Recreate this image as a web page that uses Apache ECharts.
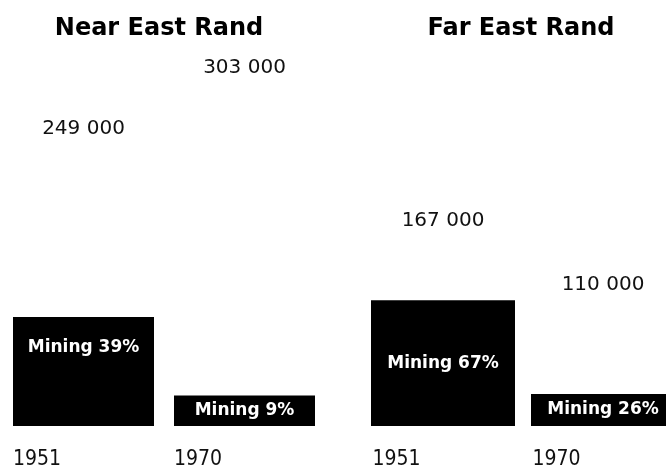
<!DOCTYPE html>
<html><head><meta charset="utf-8">
<script src="https://cdn.jsdelivr.net/npm/echarts@6/dist/echarts.min.js"></script>
<style>html,body{margin:0;padding:0;background:#fff}#c{width:666px;height:468px}</style>
</head><body><div id="c"></div>
<script>
var panelTitles = ['Near East Rand', 'Far East Rand'];
var years = ['1951', '1970'];
var nearTotal = [249000, 303000];
var nearMiningPct = [39, 9];
var farTotal = [167000, 110000];
var farMiningPct = [67, 26];

function fmt(v){ return String(v).replace(/\B(?=(\d{3})+(?!\d))/g, ' '); }

var chart = echarts.init(document.getElementById('c'));
var grids = [
  {left: 3, width: 322, top: 33, bottom: 42, outerBoundsMode: 'none'},
  {left: 363, width: 320, top: 33, bottom: 42, outerBoundsMode: 'none'}
];
var panels = [[nearTotal, nearMiningPct], [farTotal, farMiningPct]];
var xAxes = [], yAxes = [], series = [];
panels.forEach(function(p, gi){
  xAxes.push({type:'category', gridIndex: gi, data: years,
    axisLine:{show:false}, axisTick:{show:false},
    axisLabel:{interval:0, margin:23, width:141, align:'center',
      formatter:'{a|{value}}',
      rich:{a:{align:'left', fontFamily:'"DejaVu Sans Condensed", "DejaVu Sans"', fontSize:21, color:'#111', fontWeight:'normal'}}}});
  yAxes.push({type:'value', gridIndex: gi, min:0, max:350000, show:false, splitLine:{show:false}});
  var totals = p[0], pct = p[1];
  var mining = totals.map(function(t,i){ return t*pct[i]/100; });
  var rest = totals.map(function(t,i){ return t - mining[i]; });
  series.push({type:'bar', xAxisIndex:gi, yAxisIndex:gi, stack:'s'+gi, barWidth: gi===0?141:144,
    itemStyle:{color:'#000'},
    data: mining.map(function(v,i){
      var lab = {show:true, position:'inside', color:'#fff', fontFamily:'DejaVu Sans', fontWeight:'bold', fontSize:17,
        formatter: 'Mining ' + pct[i] + '%'};
      if (gi===0 && i===0) { lab.position = 'insideTop'; lab.distance = 22; }
      return {value: v, label: lab};
    })});
  series.push({type:'bar', xAxisIndex:gi, yAxisIndex:gi, stack:'s'+gi, barWidth: gi===0?141:144,
    itemStyle:{color:'rgba(0,0,0,0)'},
    label:{show:true, position:'top', distance:8, color:'#111', fontFamily:'DejaVu Sans', fontSize:20,
      formatter:function(pr){ return fmt(totals[pr.dataIndex]); }},
    data: rest});
});
chart.setOption({
  animation:false,
  title: [
    {text: panelTitles[0], left: 154, top: 12, textAlign:'center',
      textStyle:{fontFamily:'DejaVu Sans', fontWeight:'bold', fontSize:24, color:'#000'}},
    {text: panelTitles[1], left: 516, top: 12, textAlign:'center',
      textStyle:{fontFamily:'DejaVu Sans', fontWeight:'bold', fontSize:24, color:'#000'}}
  ],
  grid: grids, xAxis: xAxes, yAxis: yAxes, series: series
});
</script></body></html>
